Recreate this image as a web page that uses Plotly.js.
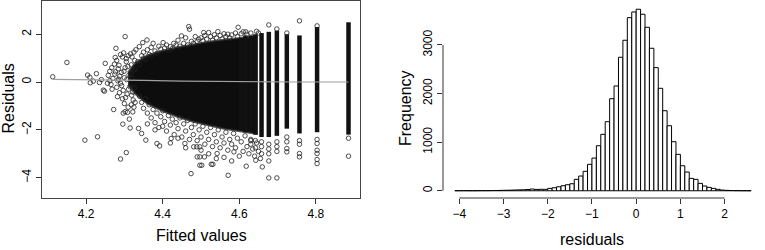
<!DOCTYPE html>
<html>
<head>
<meta charset="utf-8">
<script src="https://cdn.plot.ly/plotly-3.0.1.min.js"></script>
<style>html,body{margin:0;padding:0;background:#fff;}#chart{width:765px;height:250px;}</style>
</head>
<body>
<div id="chart"></div>
<script>
// ---------- Left panel: residuals vs fitted values ----------
// Solid black core of the cloud (envelope of the region where circles fully overlap)
const coreFitted = [4.31, 4.33, 4.36, 4.40, 4.44, 4.48, 4.52, 4.56, 4.60, 4.645];
const coreUpper  = [0.40, 0.80, 1.10, 1.30, 1.45, 1.58, 1.68, 1.76, 1.84, 1.90];
const coreLower  = [-0.10, -0.50, -0.90, -1.20, -1.45, -1.65, -1.80, -1.94, -2.05, -2.15];

// Discrete fitted values forming dense vertical stripes (extent of the solid part)
const stripeFitted = [4.605, 4.616, 4.630, 4.642, 4.658, 4.677, 4.698, 4.724, 4.757, 4.803, 4.885];
const stripeLow    = [-2.00, -2.10, -2.10, -2.20, -2.30, -2.30, -2.25, -1.95, -2.15, -2.10, -2.20];
const stripeHigh   = [1.85, 1.95, 1.95, 2.00, 2.05, 2.10, 2.15, 2.00, 1.95, 2.30, 2.50];

// Individual points (fitted, residual) outside the solid core
const leftPts = [[4.113,0.22],[4.150,0.82],[4.197,-2.43],[4.230,-2.29],[4.204,0.29],[4.210,0.20],[4.211,-0.03],[4.219,0.04],[4.227,0.35],[4.235,-0.02],[4.240,0.10],[4.245,-0.34],[4.248,-0.38],[4.250,0.78],[4.256,-0.05],[4.258,0.28],[4.262,0.06],[4.262,0.45],[4.265,-0.10],[4.267,0.60],[4.270,0.15],[4.272,-1.15],[4.275,0.33],[4.276,1.03],[4.277,0.43],[4.278,1.41],[4.280,-0.22],[4.280,0.90],[4.282,-0.61],[4.284,0.55],[4.285,0.12],[4.286,0.70],[4.288,0.25],[4.290,-3.22],[4.290,-0.05],[4.290,1.15],[4.292,0.40],[4.295,1.05],[4.295,-0.70],[4.296,-1.76],[4.297,-0.35],[4.297,-1.30],[4.298,1.22],[4.300,0.18],[4.300,-0.90],[4.302,1.90],[4.302,0.60],[4.302,-1.24],[4.305,-2.95],[4.305,0.85],[4.305,0.98],[4.307,-0.50],[4.308,-1.27],[4.310,1.10],[4.310,-1.05],[4.312,0.30],[4.313,-1.55],[4.315,-1.92],[4.315,-0.20],[4.316,1.18],[4.318,0.72],[4.318,-0.95],[4.320,1.05],[4.322,-0.42],[4.322,-1.25],[4.323,-0.75],[4.325,0.50],[4.325,1.25],[4.325,-1.05],[4.327,0.90],[4.328,-0.85],[4.330,1.35],[4.283,0.05],[4.293,-0.15],[4.299,0.45],[4.306,0.10],[4.311,-0.30],[4.317,0.35],[4.321,0.15],[4.326,-0.25],[4.329,0.55],[4.268,-0.30],[4.274,0.75],[4.287,-0.45],[4.303,-0.65],[4.309,0.65],[4.319,-0.55]];

const upperPts = [[4.339,1.48],[4.348,1.65],[4.359,1.76],[4.375,1.62],[4.401,1.65],[4.429,1.62],[4.468,2.32],[4.470,2.21],[4.449,1.93],[4.507,2.07],[4.520,2.07],[4.494,1.79],[4.544,2.11],[4.597,2.29],[4.617,2.10],[4.335,0.85],[4.340,0.75],[4.345,1.10],[4.350,1.00],[4.350,1.25],[4.355,0.95],[4.360,1.35],[4.365,1.15],[4.370,1.10],[4.370,1.45],[4.380,1.30],[4.385,1.20],[4.390,1.50],[4.395,1.38],[4.405,1.42],[4.410,1.55],[4.415,1.33],[4.420,1.48],[4.425,1.40],[4.435,1.55],[4.440,1.75],[4.445,1.50],[4.455,1.62],[4.460,1.85],[4.465,1.55],[4.475,1.70],[4.480,1.62],[4.485,1.90],[4.490,1.70],[4.500,1.85],[4.505,1.72],[4.510,1.95],[4.515,1.80],[4.525,1.90],[4.530,1.75],[4.535,1.98],[4.540,1.85],[4.550,1.95],[4.555,1.80],[4.560,2.02],[4.565,1.90],[4.570,2.00],[4.575,1.85],[4.580,1.97],[4.590,2.05],[4.595,1.90],[4.605,2.02],[4.610,2.10],[4.620,2.00],[4.630,2.05],[4.645,2.12],[4.650,2.05]];

const lowerPts = [[4.345,-2.15],[4.356,-2.43],[4.337,-1.94],[4.385,-2.57],[4.392,-2.67],[4.422,-2.36],[4.458,-2.57],[4.474,-3.83],[4.497,-3.48],[4.502,-3.48],[4.509,-3.13],[4.527,-3.44],[4.531,-3.44],[4.490,-3.13],[4.497,-3.13],[4.481,-2.71],[4.489,-2.71],[4.497,-2.71],[4.571,-3.90],[4.542,-2.99],[4.586,-2.92],[4.618,-3.52],[4.643,-3.27],[4.660,-3.55],[4.340,-0.60],[4.345,-0.85],[4.350,-1.10],[4.355,-0.70],[4.360,-1.30],[4.365,-0.95],[4.370,-1.50],[4.375,-1.15],[4.380,-1.70],[4.385,-1.30],[4.390,-1.90],[4.395,-1.45],[4.400,-1.20],[4.405,-1.65],[4.410,-2.05],[4.415,-1.40],[4.420,-1.80],[4.425,-1.55],[4.430,-2.20],[4.435,-1.70],[4.440,-1.95],[4.445,-1.50],[4.450,-2.30],[4.455,-1.75],[4.460,-2.05],[4.465,-1.60],[4.470,-2.40],[4.475,-1.90],[4.480,-2.20],[4.485,-1.75],[4.490,-2.45],[4.495,-2.00],[4.500,-2.30],[4.505,-1.85],[4.510,-2.60],[4.515,-2.10],[4.520,-2.40],[4.525,-1.90],[4.530,-2.70],[4.535,-2.20],[4.540,-2.50],[4.545,-2.00],[4.550,-2.75],[4.555,-2.30],[4.560,-2.55],[4.565,-2.10],[4.570,-2.85],[4.575,-2.40],[4.580,-2.60],[4.585,-2.15],[4.590,-2.75],[4.595,-2.35],[4.600,-3.10],[4.605,-2.50],[4.610,-2.90],[4.615,-2.25],[4.620,-2.70],[4.625,-3.00],[4.630,-2.45],[4.635,-2.80],[4.640,-3.10],[4.645,-2.55],[4.650,-2.90],[4.655,-3.20],[4.360,-1.75],[4.380,-2.00],[4.400,-1.85],[4.420,-2.55],[4.440,-2.35],[4.460,-2.75],[4.500,-2.85],[4.520,-3.00],[4.540,-3.20],[4.560,-3.15],[4.580,-3.30]];

const stripePts = [[4.677,2.39],[4.677,-2.60],[4.677,-2.80],[4.677,-3.00],[4.677,-3.30],[4.677,-4.01],[4.698,2.22],[4.698,-2.50],[4.698,-2.70],[4.698,-2.90],[4.698,-4.01],[4.724,-2.30],[4.724,-2.50],[4.724,-2.78],[4.724,-2.92],[4.757,2.56],[4.757,-2.45],[4.757,-2.60],[4.757,-2.99],[4.757,-3.13],[4.803,-2.40],[4.803,-2.57],[4.803,-2.85],[4.803,-2.99],[4.803,-3.24],[4.803,-3.41],[4.885,-2.35],[4.885,-3.10],[4.658,-2.50],[4.658,-2.70],[4.658,-3.00],[4.642,-2.45],[4.642,-2.75],[4.630,-2.40],[4.630,-2.60],[4.724,2.05],[4.803,2.35]];

// Smooth (grey) line through the residuals
const smoothFitted = [4.113, 4.25, 4.35, 4.45, 4.55, 4.65, 4.75, 4.885];
const smoothResid  = [0.11, 0.10, 0.07, 0.04, 0.02, 0.01, 0.005, 0.0];

const fittedTicks = [4.2, 4.4, 4.6, 4.8];
const residTicks  = [-4, -2, 0, 2];

// ---------- Right panel: histogram of residuals ----------
const binMids = [-4.05,-3.95,-3.85,-3.75,-3.65,-3.55,-3.45,-3.35,-3.25,-3.15,-3.05,-2.95,-2.85,-2.75,-2.65,-2.55,-2.45,-2.35,-2.25,-2.15,-2.05,-1.95,-1.85,-1.75,-1.65,-1.55,-1.45,-1.35,-1.25,-1.15,-1.05,-0.95,-0.85,-0.75,-0.65,-0.55,-0.45,-0.35,-0.25,-0.15,-0.05,0.05,0.15,0.25,0.35,0.45,0.55,0.65,0.75,0.85,0.95,1.05,1.15,1.25,1.35,1.45,1.55,1.65,1.75,1.85,1.95,2.05,2.15,2.25,2.35,2.45,2.55];
const binCounts = [1,2,2,1,1,2,3,3,5,6,8,10,12,15,18,20,25,35,28,30,29,49,62,82,103,124,144,235,303,400,544,673,927,1161,1421,1894,2156,2747,3097,3562,3679,3735,3632,3364,2932,2533,2108,1647,1338,1009,749,515,385,255,235,152,97,70,49,29,14,8,5,3,2,1,1];
const histXTicks = [-4, -3, -2, -1, 0, 1, 2];
const histYTicks = [0, 1000, 2000, 3000];

// ---------- build traces ----------
const W = 765, H = 250;
const FONT = '"Liberation Sans", Arial, Helvetica, sans-serif';
const allPts = leftPts.concat(upperPts, lowerPts, stripePts);

const poly = (xs, hi, lo) => ({x: xs.concat(xs.slice().reverse()), y: hi.concat(lo.slice().reverse())});
const core = poly(coreFitted, coreUpper, coreLower);

const stripeX = [], stripeY = [];
stripeFitted.forEach((f, i) => { stripeX.push(f, f, null); stripeY.push(stripeLow[i], stripeHigh[i], null); });

const traces = [
  {type:'scatter', mode:'lines', x:core.x, y:core.y, fill:'toself', fillcolor:'#0d0d0d',
   line:{color:'rgba(25,25,25,0.75)', width:2.5}, xaxis:'x', yaxis:'y', hoverinfo:'skip', showlegend:false},
  {type:'scatter', mode:'lines', x:stripeX, y:stripeY, line:{color:'#111', width:4.5},
   xaxis:'x', yaxis:'y', hoverinfo:'skip', showlegend:false},
  {type:'scatter', mode:'markers', x:allPts.map(p=>p[0]), y:allPts.map(p=>p[1]),
   marker:{symbol:'circle-open', size:4.5, color:'#222', line:{width:0.8}},
   xaxis:'x', yaxis:'y', showlegend:false},
  {type:'scatter', mode:'lines', x:smoothFitted, y:smoothResid, line:{color:'#a0a0a0', width:1.1},
   xaxis:'x', yaxis:'y', showlegend:false},
  {type:'bar', x:binMids, y:binCounts, width:0.1, marker:{color:'#ffffff', line:{color:'#000', width:1}},
   xaxis:'x2', yaxis:'y2', showlegend:false}
];

const px = v => v / W, py = v => 1 - v / H;
const tickFont = {family:FONT, size:12, color:'#000'};
const titleFont = {family:FONT, size:16, color:'#000'};

const layout = {
  width:W, height:H, margin:{l:0, r:0, t:0, b:0}, paper_bgcolor:'#fff', plot_bgcolor:'#fff',
  showlegend:false, font:{family:FONT},
  xaxis:{domain:[px(42), px(360)], range:[4.085, 4.915], tickvals:fittedTicks, ticks:'outside', ticklen:5,
         tickcolor:'#333', showline:true, mirror:true, linecolor:'#444', linewidth:1, showgrid:false,
         zeroline:false, tickfont:tickFont, automargin:false, anchor:'y', fixedrange:true},
  yaxis:{domain:[py(198), py(1)], range:[-4.85, 3.39], tickvals:residTicks, ticks:'outside', ticklen:5,
         tickcolor:'#333', showline:true, mirror:true, linecolor:'#444', linewidth:1, showgrid:false,
         zeroline:false, tickfont:tickFont, tickangle:-90, automargin:false, anchor:'x', fixedrange:true},
  xaxis2:{domain:[px(443), px(763)], range:[-4.368, 2.868], tickvals:histXTicks, ticks:'outside', ticklen:5,
          tickcolor:'#333', showline:false, showgrid:false, zeroline:false, tickfont:tickFont,
          automargin:false, anchor:'y2', fixedrange:true},
  yaxis2:{domain:[py(198), py(2)], range:[-149, 3884], tickvals:histYTicks, ticks:'outside', ticklen:5,
          tickcolor:'#333', showline:false, showgrid:false, zeroline:false, tickfont:tickFont,
          tickangle:-90, automargin:false, anchor:'x2', fixedrange:true},
  shapes:[
    {type:'line', xref:'x2', yref:'paper', x0:histXTicks[0], x1:histXTicks[histXTicks.length-1], y0:py(198), y1:py(198), line:{color:'#333', width:1}},
    {type:'line', xref:'paper', yref:'y2', x0:px(443), x1:px(443), y0:histYTicks[0], y1:histYTicks[histYTicks.length-1], line:{color:'#333', width:1}}
  ],
  annotations:[
    {text:'Fitted values', xref:'paper', yref:'paper', x:px(201.5), y:py(235), xanchor:'center', yanchor:'middle', showarrow:false, font:titleFont},
    {text:'Residuals', xref:'paper', yref:'paper', x:px(8), y:py(98.5), xanchor:'center', yanchor:'middle', showarrow:false, textangle:-90, font:titleFont},
    {text:'residuals', xref:'paper', yref:'paper', x:px(592), y:py(239), xanchor:'center', yanchor:'middle', showarrow:false, font:titleFont},
    {text:'Frequency', xref:'paper', yref:'paper', x:px(405.5), y:py(108.5), xanchor:'center', yanchor:'middle', showarrow:false, textangle:-90, font:titleFont}
  ]
};

Plotly.newPlot('chart', traces, layout, {staticPlot:true, displayModeBar:false});
</script>
</body>
</html>
